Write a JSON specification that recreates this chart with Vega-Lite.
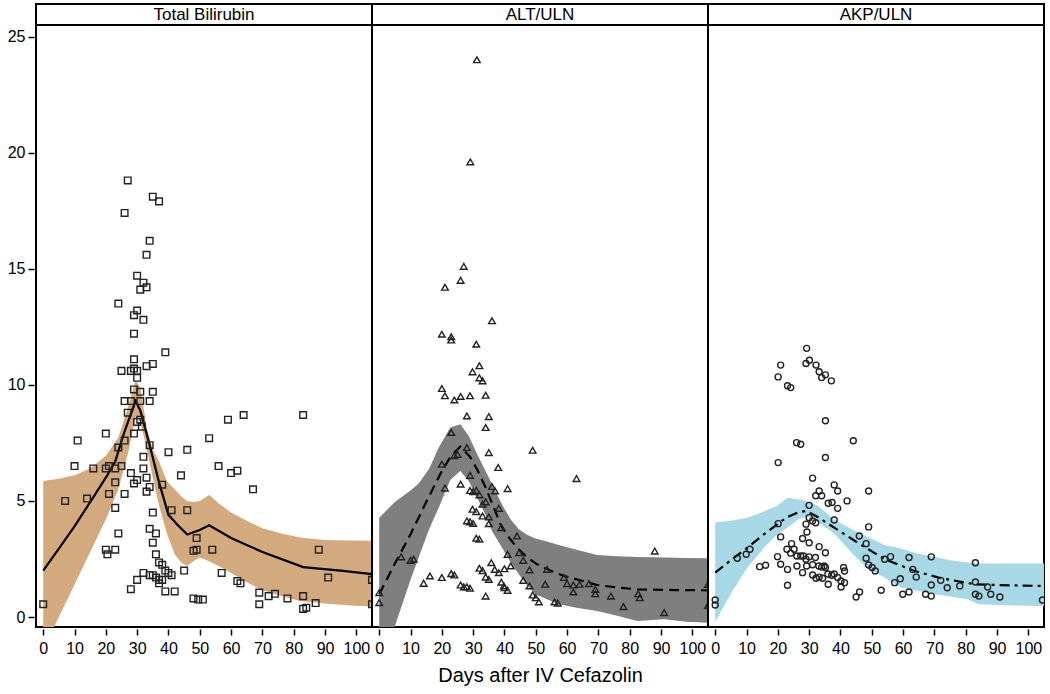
{
"$schema": "https://vega.github.io/schema/vega-lite/v6.json",
"padding": {"left": 6, "top": 3, "right": 4, "bottom": 4},
"background": "white",
"spacing": 0,
"bounds": "flush",
"config": {
  "view": {"stroke": "black", "strokeWidth": 2},
  "font": "Liberation Sans",
  "axis": {"labelFont": "Liberation Sans", "labelFontSize": 16, "labelColor": "black", "tickColor": "black", "tickSize": 6, "tickWidth": 1.5, "domain": false, "grid": false, "titleFont": "Liberation Sans", "titleFontSize": 20, "titleFontWeight": "normal", "titleColor": "black", "offset": 2, "labelPadding": 3, "labelOverlap": false},
  "axisX": {"labelPadding": 5, "tickCount": 11, "labelBound": false},
  "axisY": {"tickCount": 6}
},
"datasets": {
"headers": [{"panel": "Total Bilirubin"}, {"panel": "ALT/ULN"}, {"panel": "AKP/ULN"}],
"tb_band": [
{"day":0,"lower":-1.4,"upper":5.86},{"day":5,"lower":0.0,"upper":5.95},{"day":10,"lower":1.4,"upper":6.1},{"day":15,"lower":2.8,"upper":6.4},{"day":20,"lower":4.2,"upper":6.94},{"day":24,"lower":5.5,"upper":7.73},{"day":27,"lower":7.0,"upper":9.0},{"day":29.5,"lower":8.6,"upper":10.2},{"day":31,"lower":8.4,"upper":9.9},{"day":33,"lower":7.3,"upper":8.2},{"day":35,"lower":6.0,"upper":7.2},{"day":37,"lower":4.8,"upper":6.7},{"day":39.5,"lower":3.6,"upper":5.85},{"day":42,"lower":2.7,"upper":5.5},{"day":44,"lower":2.35,"upper":5.2},{"day":46,"lower":2.2,"upper":5.0},{"day":48,"lower":2.4,"upper":4.95},{"day":50,"lower":2.56,"upper":5.0},{"day":53,"lower":2.4,"upper":5.25},{"day":56,"lower":2.2,"upper":4.9},{"day":60,"lower":1.9,"upper":4.5},{"day":65,"lower":1.5,"upper":4.15},{"day":70,"lower":1.15,"upper":3.82},{"day":76,"lower":0.9,"upper":3.6},{"day":82,"lower":0.69,"upper":3.42},{"day":90,"lower":0.58,"upper":3.32},{"day":98,"lower":0.5,"upper":3.29},{"day":105,"lower":0.45,"upper":3.28}],
"tb_fit": [
{"day":0,"value":2.0},{"day":5,"value":2.95},{"day":10,"value":3.9},{"day":15,"value":4.95},{"day":20,"value":6.0},{"day":23,"value":6.7},{"day":26,"value":8.0},{"day":29.5,"value":9.3},{"day":31,"value":8.9},{"day":34,"value":7.4},{"day":37,"value":5.8},{"day":40,"value":4.4},{"day":43,"value":3.95},{"day":46,"value":3.55},{"day":50,"value":3.75},{"day":53,"value":3.95},{"day":60,"value":3.4},{"day":70,"value":2.8},{"day":83,"value":2.15},{"day":95,"value":2.0},{"day":105,"value":1.85}],
"tb_pts": [
{"day":0,"value":0.55},{"day":7,"value":5.0},{"day":10,"value":6.5},{"day":11,"value":7.6},{"day":14,"value":5.1},{"day":16,"value":6.4},{"day":20,"value":7.9},{"day":20,"value":6.4},{"day":21,"value":6.5},{"day":21,"value":5.3},{"day":20,"value":2.9},{"day":20.5,"value":2.7},{"day":23,"value":2.9},{"day":23,"value":4.7},{"day":24,"value":3.6},{"day":23,"value":5.8},{"day":23,"value":6.4},{"day":24,"value":7.3},{"day":25,"value":6.5},{"day":26,"value":7.6},{"day":26,"value":5.3},{"day":27,"value":8.8},{"day":28,"value":6.2},{"day":29,"value":7.9},{"day":29,"value":5.75},{"day":30,"value":5.9},{"day":30,"value":8.4},{"day":31,"value":8.5},{"day":31.5,"value":8.2},{"day":32,"value":6.9},{"day":32,"value":6.4},{"day":33,"value":6.0},{"day":33,"value":5.4},{"day":34,"value":5.6},{"day":34,"value":7.4},{"day":35,"value":4.5},{"day":38,"value":5.7},{"day":34,"value":3.8},{"day":36,"value":3.6},{"day":35,"value":3.2},{"day":36,"value":2.7},{"day":37,"value":2.35},{"day":38,"value":2.25},{"day":39,"value":2.0},{"day":40,"value":1.9},{"day":41,"value":1.8},{"day":32,"value":1.9},{"day":34,"value":1.8},{"day":35,"value":1.8},{"day":36,"value":1.7},{"day":30,"value":1.6},{"day":37,"value":1.6},{"day":38,"value":1.6},{"day":37,"value":1.45},{"day":28,"value":1.2},{"day":39,"value":1.1},{"day":42,"value":1.1},{"day":41,"value":4.6},{"day":40,"value":7.1},{"day":44,"value":6.1},{"day":45,"value":2.0},{"day":46,"value":7.2},{"day":46,"value":4.6},{"day":48,"value":2.85},{"day":49,"value":2.9},{"day":49,"value":3.4},{"day":48,"value":0.8},{"day":49.5,"value":0.75},{"day":51,"value":0.75},{"day":53,"value":7.7},{"day":54,"value":2.9},{"day":56,"value":6.5},{"day":57,"value":1.9},{"day":59,"value":8.5},{"day":60,"value":6.2},{"day":62,"value":6.3},{"day":62,"value":1.55},{"day":63,"value":1.45},{"day":64,"value":8.7},{"day":67,"value":5.5},{"day":69,"value":1.05},{"day":69,"value":0.55},{"day":72,"value":0.9},{"day":74,"value":1.0},{"day":78,"value":0.8},{"day":83,"value":8.7},{"day":83,"value":0.9},{"day":83,"value":0.35},{"day":84,"value":0.4},{"day":87,"value":0.6},{"day":88,"value":2.9},{"day":91,"value":1.7},{"day":105,"value":1.6},{"day":105,"value":0.55},{"day":27,"value":18.8},{"day":35,"value":18.1},{"day":37,"value":17.9},{"day":26,"value":17.4},{"day":34,"value":16.2},{"day":33,"value":15.6},{"day":30,"value":14.7},{"day":32,"value":14.4},{"day":33,"value":14.2},{"day":31,"value":14.1},{"day":24,"value":13.5},{"day":30,"value":13.2},{"day":29,"value":13.0},{"day":32,"value":12.8},{"day":29,"value":12.2},{"day":39,"value":11.4},{"day":29,"value":11.1},{"day":25,"value":10.6},{"day":28,"value":10.6},{"day":29,"value":10.7},{"day":30,"value":10.6},{"day":33,"value":10.8},{"day":35,"value":10.9},{"day":30,"value":10.3},{"day":29,"value":9.8},{"day":31,"value":9.7},{"day":35,"value":9.7},{"day":26,"value":9.3},{"day":28,"value":9.3},{"day":31,"value":9.3},{"day":34,"value":9.3}],
"alt_band": [
{"day":0,"lower":-2.4,"upper":4.28},{"day":5,"lower":-0.4,"upper":4.95},{"day":10,"lower":1.6,"upper":5.45},{"day":12.6,"lower":2.56,"upper":5.75},{"day":16,"lower":3.8,"upper":6.4},{"day":19,"lower":4.71,"upper":7.3},{"day":22.7,"lower":5.9,"upper":8.16},{"day":25.9,"lower":6.29,"upper":8.3},{"day":28.6,"lower":5.86,"upper":7.8},{"day":31,"lower":5.2,"upper":7.1},{"day":33.9,"lower":4.43,"upper":6.3},{"day":36,"lower":3.7,"upper":5.74},{"day":39.2,"lower":2.99,"upper":4.85},{"day":42,"lower":2.35,"upper":4.2},{"day":44.6,"lower":1.84,"upper":3.78},{"day":47,"lower":1.4,"upper":3.55},{"day":49.9,"lower":0.98,"upper":3.38},{"day":53,"lower":0.8,"upper":3.27},{"day":57.4,"lower":0.55,"upper":3.1},{"day":63,"lower":0.4,"upper":2.9},{"day":69.6,"lower":0.26,"upper":2.67},{"day":76,"lower":0.05,"upper":2.62},{"day":82.4,"lower":-0.17,"upper":2.59},{"day":91,"lower":-0.1,"upper":2.56},{"day":98,"lower":-0.2,"upper":2.54},{"day":105,"lower":-0.25,"upper":2.53}],
"alt_fit": [
{"day":0,"value":0.98},{"day":5,"value":2.3},{"day":10,"value":3.56},{"day":15,"value":4.95},{"day":20,"value":6.29},{"day":23,"value":6.95},{"day":25.9,"value":7.34},{"day":29,"value":6.9},{"day":31.5,"value":6.3},{"day":34,"value":5.57},{"day":36.5,"value":4.75},{"day":38.7,"value":4.0},{"day":41,"value":3.5},{"day":44,"value":2.99},{"day":47,"value":2.6},{"day":50.4,"value":2.27},{"day":55,"value":1.98},{"day":59,"value":1.77},{"day":65,"value":1.55},{"day":69.6,"value":1.38},{"day":76,"value":1.27},{"day":82.7,"value":1.19},{"day":95,"value":1.16},{"day":105,"value":1.15}],
"alt_pts": [
{"day":31.2,"value":24.0},{"day":29.1,"value":19.6},{"day":27,"value":15.1},{"day":26,"value":14.5},{"day":21,"value":14.2},{"day":36,"value":12.76},{"day":20,"value":12.18},{"day":23,"value":12.07},{"day":23,"value":11.93},{"day":31,"value":11.75},{"day":32,"value":10.82},{"day":29.8,"value":10.56},{"day":32,"value":10.3},{"day":33,"value":10.17},{"day":20,"value":9.84},{"day":21,"value":9.53},{"day":24,"value":9.35},{"day":26,"value":9.5},{"day":29,"value":9.53},{"day":34,"value":9.55},{"day":28,"value":8.66},{"day":35,"value":8.63},{"day":34,"value":8.16},{"day":23,"value":7.95},{"day":28,"value":7.3},{"day":35,"value":7.08},{"day":49,"value":7.18},{"day":24,"value":6.95},{"day":25,"value":7.0},{"day":20,"value":6.58},{"day":38,"value":6.44},{"day":29,"value":6.1},{"day":63,"value":5.96},{"day":26,"value":5.72},{"day":21,"value":5.55},{"day":29,"value":5.45},{"day":30,"value":5.4},{"day":31,"value":5.45},{"day":32,"value":5.26},{"day":36,"value":5.62},{"day":37,"value":5.43},{"day":41,"value":5.53},{"day":34,"value":4.96},{"day":33,"value":4.86},{"day":38.2,"value":4.68},{"day":29.8,"value":4.64},{"day":31,"value":4.54},{"day":33,"value":4.35},{"day":35,"value":4.31},{"day":35,"value":4.02},{"day":28,"value":4.14},{"day":29,"value":4.1},{"day":30,"value":4.03},{"day":39,"value":3.85},{"day":31,"value":3.39},{"day":32,"value":3.35},{"day":44,"value":3.49},{"day":41,"value":2.7},{"day":44.7,"value":2.77},{"day":46,"value":2.44},{"day":42,"value":2.2},{"day":7,"value":2.59},{"day":10,"value":2.44},{"day":11,"value":2.49},{"day":35.8,"value":2.34},{"day":32,"value":2.1},{"day":33,"value":2.0},{"day":36.9,"value":2.05},{"day":38.2,"value":1.91},{"day":40,"value":2.08},{"day":48,"value":2.03},{"day":53.6,"value":2.05},{"day":34,"value":1.72},{"day":35,"value":1.62},{"day":39,"value":1.5},{"day":39.8,"value":1.34},{"day":40,"value":1.26},{"day":41,"value":1.15},{"day":16.2,"value":1.77},{"day":14.2,"value":1.45},{"day":20,"value":1.7},{"day":23,"value":1.87},{"day":24,"value":1.81},{"day":26,"value":1.38},{"day":27,"value":1.3},{"day":28,"value":1.3},{"day":29,"value":1.24},{"day":34,"value":0.9},{"day":46,"value":1.58},{"day":48,"value":1.34},{"day":53,"value":1.41},{"day":49,"value":0.95},{"day":50,"value":0.83},{"day":51,"value":0.65},{"day":56,"value":0.65},{"day":57,"value":0.6},{"day":59,"value":1.7},{"day":60,"value":1.44},{"day":62,"value":1.38},{"day":62,"value":1.08},{"day":64,"value":1.41},{"day":67,"value":1.44},{"day":69,"value":1.19},{"day":69,"value":1.0},{"day":74,"value":0.9},{"day":78,"value":0.45},{"day":82.7,"value":1.0},{"day":83.2,"value":0.83},{"day":88,"value":2.84},{"day":91,"value":0.19},{"day":0,"value":1.05},{"day":0,"value":0.62},{"day":105,"value":1.4},{"day":105,"value":0.5}],
"akp_band": [
{"day":0,"lower":-0.2,"upper":4.07},{"day":4.9,"lower":0.98,"upper":4.15},{"day":10.3,"lower":2.13,"upper":4.28},{"day":15.6,"lower":2.99,"upper":4.55},{"day":19.9,"lower":3.56,"upper":4.8},{"day":23.1,"lower":3.85,"upper":5.14},{"day":27.3,"lower":4.28,"upper":5.05},{"day":30,"lower":4.3,"upper":4.95},{"day":32.7,"lower":4.1,"upper":4.8},{"day":38,"lower":3.6,"upper":4.2},{"day":44,"lower":2.7,"upper":3.75},{"day":48.7,"lower":2.1,"upper":3.45},{"day":54,"lower":1.7,"upper":3.1},{"day":59.4,"lower":1.26,"upper":2.95},{"day":64,"lower":1.15,"upper":2.75},{"day":70.1,"lower":0.98,"upper":2.6},{"day":75,"lower":0.88,"upper":2.45},{"day":80.8,"lower":0.76,"upper":2.35},{"day":84,"lower":0.55,"upper":2.3},{"day":95,"lower":0.5,"upper":2.3},{"day":105,"lower":0.47,"upper":2.3}],
"akp_fit": [
{"day":0,"value":1.91},{"day":5,"value":2.45},{"day":10.3,"value":2.99},{"day":15,"value":3.5},{"day":20.1,"value":4.02},{"day":23,"value":4.3},{"day":26.3,"value":4.5},{"day":29.2,"value":4.57},{"day":32.7,"value":4.31},{"day":38,"value":3.85},{"day":45.5,"value":3.2},{"day":54.1,"value":2.49},{"day":63.7,"value":1.98},{"day":72.2,"value":1.67},{"day":82.9,"value":1.41},{"day":95,"value":1.36},{"day":105,"value":1.34}],
"akp_pts": [
{"day":29.2,"value":11.57},{"day":20.9,"value":10.85},{"day":20.1,"value":10.34},{"day":29,"value":10.92},{"day":30.1,"value":11.06},{"day":32.2,"value":10.85},{"day":33.2,"value":10.56},{"day":34,"value":10.31},{"day":35.2,"value":10.43},{"day":37.1,"value":10.17},{"day":23.1,"value":9.96},{"day":24.1,"value":9.88},{"day":35.2,"value":8.45},{"day":26,"value":7.51},{"day":27.3,"value":7.44},{"day":44.1,"value":7.59},{"day":20.1,"value":6.65},{"day":35.2,"value":6.87},{"day":31.1,"value":5.98},{"day":38,"value":5.69},{"day":39.1,"value":5.43},{"day":49,"value":5.43},{"day":32.1,"value":5.22},{"day":33.2,"value":5.43},{"day":34,"value":5.22},{"day":42.1,"value":5.0},{"day":36.1,"value":4.9},{"day":37.3,"value":4.93},{"day":39.1,"value":4.68},{"day":30,"value":4.81},{"day":30,"value":4.28},{"day":31.1,"value":4.14},{"day":32.1,"value":4.06},{"day":29,"value":4.0},{"day":38,"value":4.18},{"day":49,"value":3.88},{"day":20.1,"value":4.02},{"day":29.3,"value":3.66},{"day":20.9,"value":3.45},{"day":46,"value":3.49},{"day":48.2,"value":3.16},{"day":27.9,"value":3.38},{"day":30,"value":3.2},{"day":24.4,"value":3.16},{"day":22.9,"value":2.92},{"day":24.1,"value":2.75},{"day":25.2,"value":2.92},{"day":26.1,"value":2.63},{"day":27.3,"value":2.63},{"day":28.2,"value":2.63},{"day":33.2,"value":3.03},{"day":35.2,"value":2.77},{"day":29,"value":2.49},{"day":30,"value":2.59},{"day":32,"value":2.56},{"day":19.9,"value":2.6},{"day":20.9,"value":2.27},{"day":23.1,"value":2.05},{"day":26.1,"value":2.2},{"day":29.2,"value":2.2},{"day":31.1,"value":2.25},{"day":33.1,"value":2.2},{"day":34,"value":2.15},{"day":34.8,"value":2.2},{"day":27.9,"value":1.91},{"day":31.1,"value":1.81},{"day":32.2,"value":1.67},{"day":33.2,"value":1.72},{"day":34.3,"value":1.67},{"day":36,"value":1.85},{"day":37.2,"value":1.8},{"day":38,"value":1.85},{"day":35.2,"value":2.13},{"day":36.1,"value":1.41},{"day":39.1,"value":1.7},{"day":40.2,"value":1.55},{"day":41.3,"value":1.48},{"day":41,"value":2.13},{"day":41.3,"value":1.98},{"day":40.2,"value":1.29},{"day":23.1,"value":1.37},{"day":48.2,"value":2.53},{"day":49,"value":2.24},{"day":50.1,"value":2.13},{"day":51.1,"value":1.98},{"day":53,"value":1.15},{"day":45,"value":0.86},{"day":46.1,"value":1.08},{"day":54.1,"value":2.49},{"day":56,"value":2.6},{"day":57.3,"value":1.48},{"day":59.1,"value":1.65},{"day":59.9,"value":0.98},{"day":61.9,"value":1.08},{"day":61.9,"value":2.56},{"day":63.1,"value":2.05},{"day":64.2,"value":1.72},{"day":67.2,"value":0.98},{"day":69,"value":0.9},{"day":69,"value":1.38},{"day":69,"value":2.59},{"day":72,"value":1.58},{"day":74.1,"value":1.26},{"day":78.1,"value":1.34},{"day":83.1,"value":2.34},{"day":83.1,"value":1.51},{"day":83.1,"value":0.98},{"day":84.2,"value":0.9},{"day":87,"value":1.29},{"day":88,"value":0.98},{"day":90.9,"value":0.86},{"day":0,"value":0.73},{"day":0,"value":0.52},{"day":7.05,"value":2.53},{"day":9.9,"value":2.7},{"day":11.1,"value":2.92},{"day":14.2,"value":2.17},{"day":16.1,"value":2.23},{"day":104.5,"value":0.73}]
},
"hconcat": [
{
 "width": 336, "height": 623,
 "layer": [
  {"data": {"name": "tb_band"}, "mark": {"type": "area", "color": "#d3aa7d", "clip": true},
   "encoding": {"x": {"field": "day", "type": "quantitative", "scale": {"domain": [-2.3, 105], "nice": false, "zero": false}, "axis": {"values": [0,10,20,30,40,50,60,70,80,90,100], "title": null}},
    "y": {"field": "lower", "type": "quantitative", "scale": {"domain": [-0.43, 26.4], "nice": false, "zero": false}, "axis": {"values": [0,5,10,15,20,25], "title": null}},
    "y2": {"field": "upper"}}},
  {"data": {"name": "tb_fit"}, "mark": {"type": "line", "color": "black", "strokeWidth": 2.2, "clip": true},
   "encoding": {"x": {"field": "day", "type": "quantitative"}, "y": {"field": "value", "type": "quantitative"}}},
  {"data": {"name": "tb_pts"}, "mark": {"type": "point", "shape": "square", "size": 44, "filled": false, "stroke": "#222222", "strokeWidth": 1.4, "opacity": 1, "clip": true},
   "encoding": {"x": {"field": "day", "type": "quantitative"}, "y": {"field": "value", "type": "quantitative"}}},
  {"data": {"values": [{}]}, "mark": {"type": "rule", "color": "black", "strokeWidth": 2}, "encoding": {"y": {"datum": 25.5}}},
  {"data": {"name": "headers"}, "transform": [{"filter": "datum.panel === 'Total Bilirubin'"}], "mark": {"type": "text", "fontSize": 17, "color": "black", "font": "Liberation Sans"},
   "encoding": {"x": {"datum": 51.35, "type": "quantitative"}, "y": {"datum": 25.94, "type": "quantitative"}, "text": {"field": "panel"}}}
 ]
},
{
 "width": 336, "height": 623,
 "layer": [
  {"data": {"name": "alt_band"}, "mark": {"type": "area", "color": "#7f7f7f", "clip": true},
   "encoding": {"x": {"field": "day", "type": "quantitative", "scale": {"domain": [-2.3, 105], "nice": false, "zero": false}, "axis": {"values": [0,10,20,30,40,50,60,70,80,90,100], "title": "Days after IV Cefazolin", "titlePadding": 9}},
    "y": {"field": "lower", "type": "quantitative", "scale": {"domain": [-0.43, 26.4], "nice": false, "zero": false}, "axis": null},
    "y2": {"field": "upper"}}},
  {"data": {"name": "alt_fit"}, "mark": {"type": "line", "color": "black", "strokeWidth": 2.2, "strokeDash": [10, 6], "clip": true},
   "encoding": {"x": {"field": "day", "type": "quantitative"}, "y": {"field": "value", "type": "quantitative"}}},
  {"data": {"name": "alt_pts"}, "mark": {"type": "point", "shape": "triangle-up", "size": 44, "filled": false, "stroke": "#222222", "strokeWidth": 1.4, "opacity": 1, "clip": true},
   "encoding": {"x": {"field": "day", "type": "quantitative"}, "y": {"field": "value", "type": "quantitative"}}},
  {"data": {"values": [{}]}, "mark": {"type": "rule", "color": "black", "strokeWidth": 2}, "encoding": {"y": {"datum": 25.5}}},
  {"data": {"name": "headers"}, "transform": [{"filter": "datum.panel === 'ALT/ULN'"}], "mark": {"type": "text", "fontSize": 17, "color": "black", "font": "Liberation Sans"},
   "encoding": {"x": {"datum": 51.35, "type": "quantitative"}, "y": {"datum": 25.94, "type": "quantitative"}, "text": {"field": "panel"}}}
 ]
},
{
 "width": 336, "height": 623,
 "layer": [
  {"data": {"name": "akp_band"}, "mark": {"type": "area", "color": "#a6d8e6", "clip": true},
   "encoding": {"x": {"field": "day", "type": "quantitative", "scale": {"domain": [-2.3, 105], "nice": false, "zero": false}, "axis": {"values": [0,10,20,30,40,50,60,70,80,90,100], "title": null}},
    "y": {"field": "lower", "type": "quantitative", "scale": {"domain": [-0.43, 26.4], "nice": false, "zero": false}, "axis": null},
    "y2": {"field": "upper"}}},
  {"data": {"name": "akp_fit"}, "mark": {"type": "line", "color": "black", "strokeWidth": 2.2, "strokeDash": [10, 5, 3, 5], "clip": true},
   "encoding": {"x": {"field": "day", "type": "quantitative"}, "y": {"field": "value", "type": "quantitative"}}},
  {"data": {"name": "akp_pts"}, "mark": {"type": "point", "shape": "circle", "size": 36, "filled": false, "stroke": "#222222", "strokeWidth": 1.4, "opacity": 1, "clip": true},
   "encoding": {"x": {"field": "day", "type": "quantitative"}, "y": {"field": "value", "type": "quantitative"}}},
  {"data": {"values": [{}]}, "mark": {"type": "rule", "color": "black", "strokeWidth": 2}, "encoding": {"y": {"datum": 25.5}}},
  {"data": {"name": "headers"}, "transform": [{"filter": "datum.panel === 'AKP/ULN'"}], "mark": {"type": "text", "fontSize": 17, "color": "black", "font": "Liberation Sans"},
   "encoding": {"x": {"datum": 51.35, "type": "quantitative"}, "y": {"datum": 25.94, "type": "quantitative"}, "text": {"field": "panel"}}}
 ]
}
]
}
